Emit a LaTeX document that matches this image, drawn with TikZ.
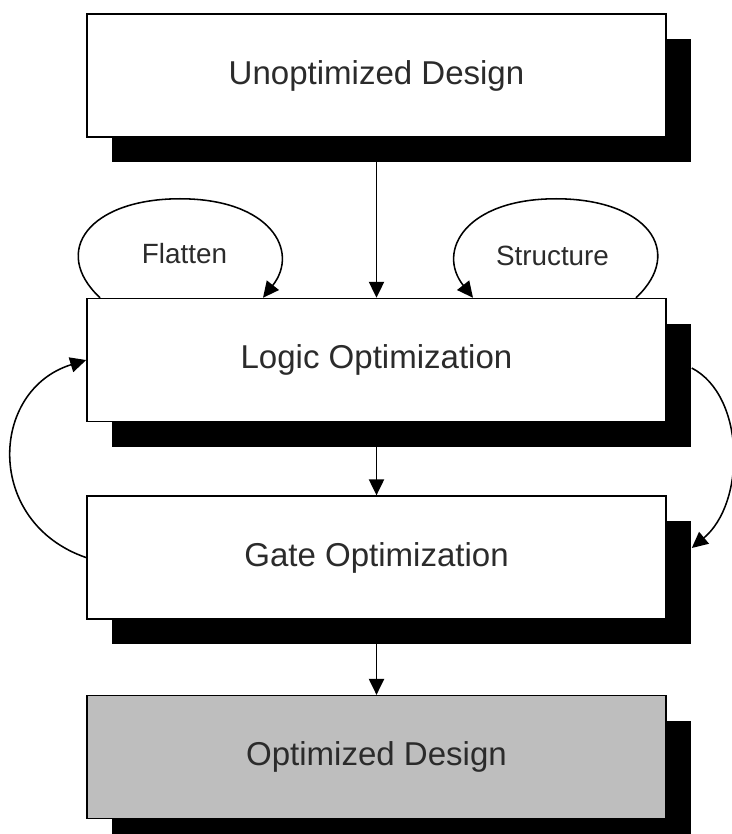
\documentclass[tikz,border=0pt]{standalone}
\usepackage{fontspec}
\setmainfont{Liberation Sans}
\usetikzlibrary{arrows.meta,positioning,calc,shadows}
\definecolor{optgray}{HTML}{BEBEBE}
\definecolor{textgray}{HTML}{2B2B2B}

\begin{document}
\begin{tikzpicture}[
  >={Triangle[length=0.4cm,width=0.38cm]},
  line width=1.1pt,
  block/.style={rectangle, draw=black, fill=white, minimum width=14.475cm, minimum height=3.075cm, align=center, text=textgray, font=\fontsize{23.5}{28}\selectfont, drop shadow={shadow xshift=0.625cm, shadow yshift=-0.625cm, fill=black, opacity=1}},
  tag/.style={text=textgray, font=\fontsize{19.8}{24}\selectfont},
  flow/.style={->, draw=black, line width=1.1pt}
]
  \useasboundingbox (0,0) rectangle (18.275,-20.85);
  \node[block] (unopt) at (9.4125,-1.8875) {Unoptimized Design};
  \node[block, below=4.0cm of unopt] (logic) {Logic Optimization};
  \node[block, below=1.825cm of logic] (gate) {Gate Optimization};
  \node[block, below=1.875cm of gate, fill=optgray] (opt) {Optimized Design};

  \draw[flow] (unopt.south) -- (logic.north);
  \draw[flow] (logic.south) -- (gate.north);
  \draw[flow] (gate.south) -- (opt.north);

  % loops on top of the logic block
  \node[tag] (flatten) at ($(logic.north)+(-4.8,1.1)$) {Flatten};
  \node[tag] (structure) at ($(logic.north)+(4.4,1.05)$) {Structure};
  \coordinate (fl-from) at ($(logic.north)+(-6.9125,0)$);
  \coordinate (fl-top) at ($(logic.north)+(-4.9125,2.475)$);
  \coordinate (fl-to) at ($(logic.north)+(-2.8375,0)$);
  \coordinate (st-from) at ($(logic.north)+(6.4875,0)$);
  \coordinate (st-top) at ($(logic.north)+(4.4875,2.475)$);
  \coordinate (st-to) at ($(logic.north)+(2.4125,0)$);
  \draw[flow] (fl-from) .. controls +(-1.25,1.175) and +(-2.25,0) .. (fl-top) .. controls +(2.25,0) and +(0.925,1.175) .. (fl-to);
  \draw[flow] (st-from) .. controls +(1.25,1.175) and +(2.25,0) .. (st-top) .. controls +(-2.25,0) and +(-0.925,1.175) .. (st-to);

  % feedback between logic and gate
  \coordinate (fb-from) at ($(logic.east)+(0.625,-0.2)$);
  \coordinate (fb-to) at ($(gate.east)+(0.625,0.24)$);
  \draw[flow] (gate.west) .. controls +(-2.55,0.875) and +(-2.425,-0.75) .. (logic.west);
  \draw[flow] (fb-from) .. controls +(1.35,-0.7) and +(1.35,1.125) .. (fb-to);
\end{tikzpicture}
\end{document}
